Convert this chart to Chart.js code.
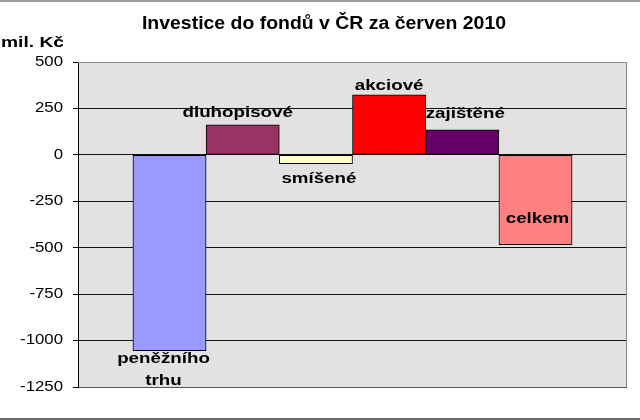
<!DOCTYPE html>
<html lang="cs">
<head>
<meta charset="utf-8">
<title>Investice do fondů v ČR za červen 2010</title>
<script src="https://cdn.jsdelivr.net/npm/chart.js@4/dist/chart.umd.min.js"></script>
<style>
  html, body { margin: 0; padding: 0; background: #ffffff; }
  #wrap { width: 640px; height: 420px; position: relative; }
</style>
</head>
<body>
<div id="wrap"><canvas id="c" width="640" height="420"></canvas></div>
<script>
// Fund categories (first one is split over two lines)
const categories = [['peněžního', 'trhu'], 'dluhopisové', 'smíšené', 'akciové', 'zajištěné', 'celkem'];
// Net investment, mil. Kč
const values = [-1055, 162, -48, 323, 135, -483];
// Value axis ticks
const tickValues = [500, 250, 0, -250, -500, -750, -1000, -1250];

const barColors = ['#9999ff', '#993366', '#ffffcc', '#ff0000', '#660066', '#ff8080'];
// Where each category name sits relative to its bar
const labelPlacement = [
  { side: 'end', dy: 8, dx: -6 },
  { side: 'end', dy: -12, dx: -5 },
  { side: 'end', dy: 15, dx: 3 },
  { side: 'end', dy: -9, dx: 0 },
  { side: 'end', dy: -16, dx: 3 },
  { side: 'end', dy: -26, dx: 2 }
];

const FONT = '"Liberation Sans", Arial, sans-serif';

function wideText(ctx, text, x, y, font, align, stretch) {
  ctx.save();
  ctx.font = font;
  ctx.fillStyle = '#000';
  ctx.textAlign = align;
  ctx.textBaseline = 'middle';
  ctx.translate(x, y);
  ctx.scale(stretch, 1);
  ctx.fillText(text, 0, 0);
  ctx.restore();
}

const decor = {
  id: 'decor',
  beforeDraw(chart) {
    const { ctx, chartArea: a } = chart;
    ctx.save();
    ctx.fillStyle = '#e2e2e2';
    ctx.fillRect(a.left, a.top, a.right - a.left, a.bottom - a.top);
    // outer frame strips
    ctx.fillStyle = '#9a9a9a';
    ctx.fillRect(0, 0, chart.width, 2);
    ctx.fillStyle = '#6e6e6e';
    ctx.fillRect(0, chart.height - 2, chart.width, 2);
    ctx.restore();
  },
  beforeDatasetsDraw(chart) {
    const { ctx, chartArea: a } = chart;
    ctx.save();
    ctx.strokeStyle = '#8a8a8a';
    ctx.lineWidth = 1;
    ctx.beginPath();
    ctx.moveTo(a.left, a.top + 0.5);
    ctx.lineTo(a.right - 0.5, a.top + 0.5);
    ctx.lineTo(a.right - 0.5, a.bottom);
    ctx.stroke();
    ctx.restore();
  },
  afterDatasetsDraw(chart) {
    const { ctx } = chart;
    const y = chart.scales.y;
    // tick labels
    tickValues.forEach(v => {
      wideText(ctx, String(v), 63, y.getPixelForValue(v), '14px ' + FONT, 'right', 1.2);
    });
    // axis unit
    wideText(ctx, 'mil. Kč', 1, 43, 'bold 15px ' + FONT, 'left', 1.28);
    // title
    wideText(ctx, 'Investice do fondů v ČR za červen 2010', 324, 24, 'bold 18px ' + FONT, 'center', 1.08);
    // category names at the bars
    const meta = chart.getDatasetMeta(0);
    meta.data.forEach((el, i) => {
      const p = labelPlacement[i];
      const lines = Array.isArray(categories[i]) ? categories[i] : [categories[i]];
      lines.forEach((t, k) => {
        wideText(ctx, t, el.x + p.dx, el.y + p.dy + k * 22, 'bold 15px ' + FONT, 'center', 1.25);
      });
    });
  }
};

new Chart(document.getElementById('c'), {
  type: 'bar',
  data: {
    datasets: [{
      data: values.map((v, i) => ({ x: i, y: v })),
      backgroundColor: barColors,
      borderColor: '#000',
      borderWidth: 1,
      borderSkipped: false,
      barPercentage: 1,
      categoryPercentage: 1
    }]
  },
  options: {
    responsive: false,
    animation: false,
    devicePixelRatio: 1,
    layout: { padding: { top: 62, bottom: 33, right: 13, left: 0 } },
    plugins: { legend: { display: false }, tooltip: { enabled: false } },
    scales: {
      x: {
        type: 'linear',
        display: false,
        min: -1.25,
        max: 6.25,
        offset: false
      },
      y: {
        min: -1250,
        max: 500,
        afterFit(s) { s.width = 78; },
        afterBuildTicks(s) { s.ticks = tickValues.slice().reverse().map(v => ({ value: v })); },
        ticks: { display: false },
        border: { color: '#000', width: 1 },
        grid: {
          color: c => (c.tick && c.tick.value === 500) ? '#8a8a8a' : (c.tick && c.tick.value === -1250 ? '#555' : '#111'),
          lineWidth: 1,
          tickColor: '#000',
          tickLength: 5,
          drawTicks: true
        }
      }
    }
  },
  plugins: [decor]
});
</script>
</body>
</html>
